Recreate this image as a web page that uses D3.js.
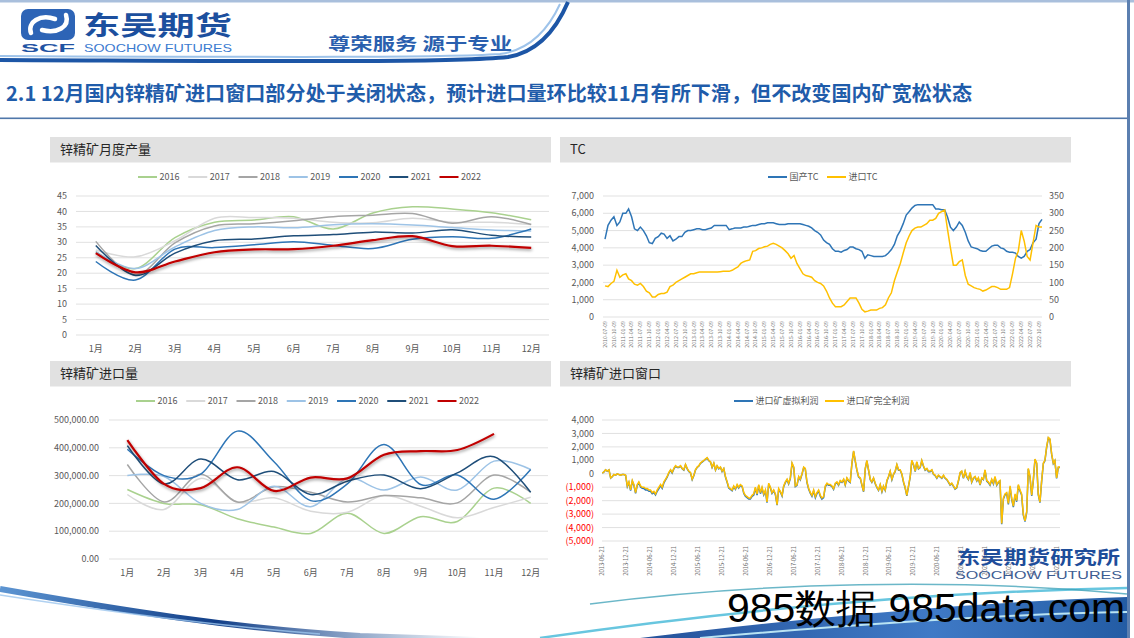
<!DOCTYPE html>
<html><head><meta charset="utf-8">
<script src="https://cdn.jsdelivr.net/npm/d3@7"></script>
<style>
body{margin:0;background:#fff}
svg{display:block}
text{font-family:"Noto Sans CJK SC","Noto Sans",sans-serif}
</style>
</head><body>
<svg id="c" width="1134" height="638"></svg>
<script>
// ---------------- DATA ----------------
const months = ["1月","2月","3月","4月","5月","6月","7月","8月","9月","10月","11月","12月"];
const years = ["2016","2017","2018","2019","2020","2021","2022"];

// 锌精矿月度产量 (万吨)
const output2016 = [27,21.5,31.5,36.5,37.2,38.3,34.3,39.5,41.5,40.8,39.6,37.3];
const output2017 = [27.5,25.3,30.5,37.8,38,37.8,36.5,36.3,37.8,36.5,36.5,35.8];
const output2018 = [30.3,19.5,29.8,35.3,36,37,38.3,38.8,39.3,36.2,38.3,35.8];
const output2019 = [27,21.5,28.5,33.8,35,34.7,35.7,36,35.6,34.8,34,33.7];
const output2020 = [23.8,17.8,27.8,28.3,29.2,30.2,29,28,31,31.8,31.3,34.3];
const output2021 = [29,19.3,26.5,30.5,31.1,32.1,32.5,33.3,33,34.1,32.3,31.7];
const output2022 = [26.5,20.3,23.8,26.8,27.7,27.8,28.9,30.7,32,28.8,28.9,28.2];
const outputTicks = [0,5,10,15,20,25,30,35,40,45];

// 锌精矿进口量 (吨)
const imp2016 = [250000,200000,195000,145000,115000,92000,165000,92000,152000,135000,255000,200000];
const imp2017 = [232000,178000,290000,205000,220000,172000,168000,228000,190000,148000,185000,222000];
const imp2018 = [340000,205000,305000,205000,260000,240000,205000,228000,220000,202000,302000,240000];
const imp2019 = [300000,297000,200000,178000,262000,188000,290000,248000,295000,248000,352000,322000];
const imp2020 = [395000,300000,305000,460000,350000,210000,270000,412000,268000,302000,215000,322000];
const imp2021 = [408000,270000,360000,285000,315000,232000,280000,302000,253000,310000,368000,240000];
const imp2022 = [428000,270000,255000,330000,245000,293000,290000,375000,388000,392000,450000];
const importTicks = [0,100000,200000,300000,400000,500000];

// TC: monthly from 2010-07-09
const tcStart = "2010-07-09";
const tcDomestic = [4500,5300,5600,5800,5300,5500,6000,6000,6250,5800,
 5100,5000,5200,5000,4700,4300,4250,4550,4650,4850,
 4800,4550,4700,4400,4500,4650,4650,4900,5000,5000,
 5050,5100,5100,5050,5050,5100,5150,5300,5300,5300,
 5300,5300,5050,5100,5150,5150,5150,5200,5200,5250,
 5300,5300,5350,5400,5400,5450,5450,5450,5400,5350,
 5350,5350,5400,5400,5400,5400,5400,5350,5300,5250,
 5150,5000,4900,4750,4450,4300,4200,3950,3800,3800,
 3750,3850,3900,4050,4050,3950,3900,3800,3400,3600,
 3550,3500,3500,3500,3500,3550,3700,3900,4200,4700,
 5000,5400,5900,6100,6300,6450,6500,6500,6500,6500,
 6500,6500,6250,6250,6200,6200,5800,5200,5000,5200,
 5500,5300,4900,4400,4050,4000,3950,3850,3800,3800,
 3950,4100,4150,4150,4000,3950,3800,3750,3750,3700,
 3500,3400,3500,3800,3900,4300,4500,5400,5650];
const tcImport = [90,88,97,103,135,115,122,125,110,105,
 95,92,97,88,75,70,58,58,65,68,
 68,72,88,92,100,105,110,115,120,125,
 125,128,130,130,130,130,130,130,130,131,
 132,132,132,135,140,145,155,160,163,165,
 190,192,198,200,203,205,210,213,210,205,
 200,192,183,170,178,155,140,125,120,118,
 115,105,100,97,90,75,55,40,30,30,
 30,35,45,55,55,55,40,22,15,17,
 20,20,20,25,27,35,55,70,105,130,
 155,185,215,235,250,257,260,260,265,270,
 280,280,285,300,305,310,255,200,150,150,
 160,165,120,95,90,85,82,80,75,78,
 83,88,88,85,80,80,80,85,125,170,
 190,250,220,175,165,215,265,260,260];
const tcLeftTicks = [0,1000,2000,3000,4000,5000,6000,7000];
const tcRightTicks = [0,50,100,150,200,250,300,350];

// 进口窗口: sampled every ~12.7 days from 2013-06-21
const profitStart = "2013-06-21";
const profitStepDays = 12.7;
const profitFull = [50,150,300,200,300,-300,-200,-50,-100,0,-50,-100,-50,-50,-100,-900,-600,-1200,-500,-800,
 -1400,-800,-600,-900,-1000,-1000,-1100,-1100,-1200,-1200,-1400,-1300,-1500,-1200,-1000,-800,-1000,-600,-400,-200,
 100,300,100,400,600,500,500,600,400,300,700,400,200,100,-400,-100,300,500,600,800,
 900,1000,1100,1200,1000,900,500,800,300,600,400,500,200,400,-200,-600,-1000,-1100,-1200,-900,
 -1100,-800,-1000,-800,-900,-1400,-1600,-1700,-1800,-1800,-1600,-1500,-1000,-1500,-800,-1400,-1000,-1500,-1200,-2100,
 -700,-1000,-1400,-1200,-1500,-2300,-1100,-1300,-1600,-900,-600,-400,-700,-300,800,500,-900,-800,-200,-400,
 0,500,400,-600,-1100,-1400,-1600,-1200,-1700,-1400,-1200,-1600,-1800,-1700,-900,-700,-800,-800,-900,-1100,
 -700,-600,-800,-500,-600,-400,-800,-300,-500,-600,800,1700,1000,300,-200,-300,-800,-1300,400,1000,
 300,-400,-600,-300,-700,-1000,-1200,-800,-1300,-900,-1200,-500,-200,200,-400,0,200,700,300,300,
 0,-600,-1000,-1600,-900,-200,1000,700,200,900,400,500,1000,600,300,400,200,200,300,0,
 -100,-300,-100,-200,-300,-100,-300,-400,-600,-800,-700,-900,-1100,-1000,-500,100,200,-300,200,-200,
 -400,100,-600,-300,-200,-500,-300,-800,-300,-400,300,-500,-600,-800,-400,-700,-200,-800,-600,-500,
 -3700,-1800,-1500,-1400,-2200,-900,-1800,-2400,-1500,-2000,-800,-1200,-1500,-3000,-3500,-2800,400,-200,-1600,-500,
 1100,800,-1500,-2100,-500,800,1000,2000,2700,2600,1500,800,1000,-300,500,500];
const profitVirtual = [40,140,290,190,280,-320,-220,-60,-110,-10,-60,-110,-60,-60,-120,-950,-650,-1250,-560,-860,
 -1450,-860,-680,-980,-1080,-1100,-1200,-1200,-1300,-1300,-1480,-1400,-1580,-1300,-1100,-880,-1080,-680,-460,-250,
 60,260,60,360,560,470,470,570,370,270,670,370,170,70,-430,-130,270,470,570,770,
 870,970,1070,1170,970,870,470,770,270,570,370,470,170,370,-240,-650,-1060,-1160,-1260,-960,
 -1160,-860,-1060,-860,-960,-1470,-1680,-1780,-1880,-1880,-1680,-1580,-1080,-1580,-880,-1480,-1080,-1580,-1280,-2150,
 -760,-1060,-1460,-1260,-1560,-2330,-1160,-1360,-1660,-960,-660,-460,-760,-350,760,460,-950,-850,-250,-450,
 -40,460,360,-650,-1160,-1460,-1680,-1280,-1780,-1480,-1280,-1680,-1880,-1780,-970,-770,-860,-860,-960,-1160,
 -750,-650,-850,-550,-650,-450,-850,-350,-550,-650,760,1660,960,260,-240,-340,-840,-1340,360,960,
 260,-440,-640,-340,-740,-1040,-1240,-840,-1340,-940,-1240,-540,-240,160,-440,-40,160,660,260,260,
 -40,-640,-1040,-1640,-940,-240,960,660,160,860,360,460,960,560,260,360,160,160,260,-40,
 -140,-340,-140,-240,-340,-140,-340,-440,-640,-840,-740,-940,-1140,-1040,-540,60,160,-340,160,-240,
 -440,60,-640,-340,-240,-540,-340,-840,-340,-440,260,-540,-660,-860,-460,-760,-260,-860,-660,-560,
 -3750,-1880,-1580,-1480,-2280,-980,-1880,-2480,-1580,-2080,-880,-1280,-1580,-3080,-3560,-2860,350,-250,-1650,-550,
 1060,760,-1550,-2150,-550,760,960,1960,2660,2560,1460,760,960,-340,460,460];
const profitTicks = [-5000,-4000,-3000,-2000,-1000,0,1000,2000,3000,4000];

// ---------------- STYLE ----------------
const yearColors = ["#a9d18e","#d9d9d9","#a5a5a5","#9dc3e6","#2e75b6","#1f4e79","#c00000"];
const axisColor = "#595959";
const gridColor = "#d9d9d9";

// ---------------- DRAW ----------------
const svg = d3.select("#c");
const W = 1134, H = 638;
svg.append("rect").attr("width",W).attr("height",H).attr("fill","#fff");

const defs = svg.append("defs");
const sh = defs.append("filter").attr("id","shadow").attr("x","-5%").attr("y","-20%").attr("width","110%").attr("height","150%");
sh.append("feDropShadow").attr("dx",0.5).attr("dy",1.5).attr("stdDeviation",1.6).attr("flood-color","#000").attr("flood-opacity",0.45);

const gb = defs.append("linearGradient").attr("id","bandGrad").attr("x1","0").attr("x2","1").attr("y1","0").attr("y2","0");
gb.append("stop").attr("offset","0").attr("stop-color","#0d3f8f");
gb.append("stop").attr("offset","0.6").attr("stop-color","#2a6bc0");
gb.append("stop").attr("offset","1").attr("stop-color","#0b4a9a");
const gl = defs.append("linearGradient").attr("id","leftGrad").attr("x1","0").attr("x2","1");
gl.append("stop").attr("offset","0").attr("stop-color","#5d95d2");
gl.append("stop").attr("offset","0.45").attr("stop-color","#123f88");
gl.append("stop").attr("offset","1").attr("stop-color","#14478f").attr("stop-opacity",0);

// ---- header ----
svg.append("rect").attr("x",0).attr("y",0).attr("width",W).attr("height",2.5).attr("fill","#a9bfdc");
svg.append("rect").attr("x",1127).attr("y",0).attr("width",3).attr("height",H).attr("fill","#5b7fb0");
svg.append("path").attr("d","M0,56 C 250,57 440,58 500,54 C 530,50 548,30 560,4")
  .attr("fill","none").attr("stroke","#9ec3ea").attr("stroke-width",2);
svg.append("path").attr("d","M0,60 C 250,61 450,63 508,57 C 538,52 556,30 568,2")
  .attr("fill","none").attr("stroke","#1d56a6").attr("stroke-width",4);

// logo icon
svg.append("rect").attr("x",21).attr("y",9).attr("width",54).attr("height",31).attr("rx",7).attr("fill","#2d64b6");
svg.append("path").attr("d","M31,33 C 27,22 40,14 55,19").attr("fill","none").attr("stroke","#fff").attr("stroke-width",4.5).attr("stroke-linecap","round");
svg.append("path").attr("d","M66,15 C 70,27 57,34 42,30").attr("fill","none").attr("stroke","#fff").attr("stroke-width",4.5).attr("stroke-linecap","round");
svg.append("text").attr("x",21).attr("y",52).attr("font-size",11.5).attr("font-weight","bold")
  .attr("fill","#1f53a3").attr("textLength",54).attr("lengthAdjust","spacingAndGlyphs").style("font-family","'Liberation Sans',sans-serif").text("SCF");
svg.append("text").attr("x",83).attr("y",35).attr("font-size",26).attr("font-weight","bold")
  .attr("fill","#1c4f9e").attr("textLength",149).attr("lengthAdjust","spacingAndGlyphs").text("东吴期货");
svg.append("text").attr("x",84).attr("y",52).attr("font-size",11.5)
  .attr("fill","#3b7bd0").attr("textLength",148).attr("lengthAdjust","spacingAndGlyphs").style("font-family","'Liberation Sans',sans-serif").text("SOOCHOW FUTURES");
svg.append("text").attr("x",328).attr("y",50).attr("font-size",17).attr("font-weight","bold")
  .attr("fill","#2a5fae").attr("textLength",184).attr("lengthAdjust","spacingAndGlyphs").text("尊荣服务 源于专业");

// title
svg.append("text").attr("x",6).attr("y",101).attr("font-size",20).attr("font-weight","bold")
  .attr("fill","#1f5caa").attr("textLength",966).attr("lengthAdjust","spacingAndGlyphs")
  .text("2.1 12月国内锌精矿进口窗口部分处于关闭状态，预计进口量环比较11月有所下滑，但不改变国内矿宽松状态");
svg.append("rect").attr("x",0).attr("y",117.5).attr("width",1127).attr("height",1.6).attr("fill","#4f77aa");

// ---- panel titles ----
function panelTitle(x,y,w,h,t){
  svg.append("rect").attr("x",x).attr("y",y).attr("width",w).attr("height",h).attr("fill","#e1e1e1");
  svg.append("text").attr("x",x+10).attr("y",y+h/2).attr("dy","0.36em").attr("font-size",13).attr("fill","#262626").text(t);
}
panelTitle(50,137,501,25.5,"锌精矿月度产量");
panelTitle(560,137,511,25.5,"TC");
panelTitle(50,361,501,25.5,"锌精矿进口量");
panelTitle(560,361,511,25.5,"锌精矿进口窗口");

function legendItem(x,y,color,label,w){
  svg.append("line").attr("x1",x).attr("x2",x+(w||19)).attr("y1",y).attr("y2",y).attr("stroke",color).attr("stroke-width",2);
  svg.append("text").attr("x",x+(w||19)+2.5).attr("y",y).attr("dy","0.35em").attr("font-size",9).attr("fill",axisColor).text(label);
}

// ---- monthly seasonal chart ----
function seasonal(opts){
  const g = svg.append("g");
  const x = d3.scaleBand().domain(months).range([opts.x0,opts.x1]);
  const y = d3.scaleLinear().domain([0,opts.max]).range([opts.yBot,opts.yTop]);
  opts.ticks.forEach(t=>{
    g.append("line").attr("x1",opts.gx0).attr("x2",opts.gx1).attr("y1",y(t)).attr("y2",y(t))
      .attr("stroke",gridColor).attr("stroke-width",0.8);
    g.append("text").attr("x",opts.labelX).attr("y",y(t)).attr("dy","0.35em").attr("text-anchor","end")
      .attr("font-size",9).attr("fill",axisColor).text(opts.fmt(t));
  });
  months.forEach(m=>{
    g.append("text").attr("x",x(m)+x.bandwidth()/2).attr("y",opts.xLabelY).attr("text-anchor","middle")
      .attr("font-size",9).attr("fill",axisColor).text(m);
  });
  const line = d3.line().x((d,i)=>x(months[i])+x.bandwidth()/2).y(d=>y(d)).curve(d3.curveCardinal.tension(0));
  opts.series.forEach((s,i)=>{
    const p = g.append("path").attr("d",line(s)).attr("fill","none").attr("stroke",yearColors[i])
      .attr("stroke-width", i===6 ? 2.2 : 1.5);
    if(i===6) p.attr("filter","url(#shadow)");
  });
  years.forEach((yr,i)=> legendItem(opts.legX + i*50.25, opts.legY, yearColors[i], yr));
}

seasonal({x0:76,x1:551,gx0:76,gx1:549,yTop:196,yBot:335,max:45,ticks:outputTicks,
  labelX:67,fmt:d=>String(d),xLabelY:351.5,
  series:[output2016,output2017,output2018,output2019,output2020,output2021,output2022],
  legX:138,legY:177});

seasonal({x0:109,x1:549,gx0:109,gx1:548,yTop:420,yBot:559,max:500000,ticks:importTicks,
  labelX:99,fmt:d3.format(",.2f"),xLabelY:575.5,
  series:[imp2016,imp2017,imp2018,imp2019,imp2020,imp2021,imp2022],
  legX:136,legY:401});

// ---- TC chart ----
(function(){
  const g = svg.append("g");
  const parse = d3.timeParse("%Y-%m-%d");
  const t0 = parse(tcStart);
  const dates = tcDomestic.map((d,i)=>d3.timeMonth.offset(t0,i));
  const x = d3.scaleTime().domain([t0, dates[dates.length-1]]).range([605,1042]);
  const yL = d3.scaleLinear().domain([0,7000]).range([317,196]);
  const yR = d3.scaleLinear().domain([0,350]).range([317,196]);
  tcLeftTicks.forEach(t=>{
    g.append("line").attr("x1",603).attr("x2",1042).attr("y1",yL(t)).attr("y2",yL(t)).attr("stroke",gridColor).attr("stroke-width",0.8);
    g.append("text").attr("x",594).attr("y",yL(t)).attr("dy","0.35em").attr("text-anchor","end").attr("font-size",9).attr("fill",axisColor).text(d3.format(",")(t));
  });
  tcRightTicks.forEach(t=>{
    g.append("text").attr("x",1049).attr("y",yR(t)).attr("dy","0.35em").attr("text-anchor","start").attr("font-size",9).attr("fill",axisColor).text(t);
  });
  const fmt = d3.timeFormat("%Y-%m-%d");
  for(let k=0; ; k++){
    const d = d3.timeMonth.offset(t0, 3*k);
    if(d > dates[dates.length-1]) break;
    g.append("text").attr("transform",`translate(${x(d)},321) rotate(-90)`).attr("text-anchor","end").attr("dy","0.35em")
      .attr("font-size",5.2).attr("fill","#707070").text(fmt(d));
  }
  const lL = d3.line().x((d,i)=>x(dates[i])).y(d=>yL(d));
  const lR = d3.line().x((d,i)=>x(dates[i])).y(d=>yR(d));
  g.append("path").attr("d",lL(tcDomestic)).attr("fill","none").attr("stroke","#2e75b6").attr("stroke-width",1.5);
  g.append("path").attr("d",lR(tcImport)).attr("fill","none").attr("stroke","#ffc000").attr("stroke-width",1.5);
  legendItem(768,177,"#2e75b6","国产TC");
  legendItem(827,177,"#ffc000","进口TC");
})();

// ---- profit chart ----
(function(){
  const g = svg.append("g");
  const parse = d3.timeParse("%Y-%m-%d");
  const t0 = parse(profitStart);
  const dates = profitFull.map((d,i)=>d3.timeDay.offset(t0, Math.round(i*profitStepDays)));
  const x = d3.scaleTime().domain([t0, dates[dates.length-1]]).range([602.3,1060]);
  const y = d3.scaleLinear().domain([-5000,4000]).range([541,420]);
  profitTicks.forEach(t=>{
    g.append("line").attr("x1",602).attr("x2",1060).attr("y1",y(t)).attr("y2",y(t)).attr("stroke",gridColor).attr("stroke-width",0.8);
    g.append("text").attr("x",594).attr("y",y(t)).attr("dy","0.35em").attr("text-anchor","end").attr("font-size",9)
      .attr("fill", t<0 ? "#ff0000" : axisColor)
      .text(t<0 ? "("+d3.format(",")(-t)+")" : d3.format(",")(t));
  });
  const fmt = d3.timeFormat("%Y-%m-%d");
  for(let k=0; ; k++){
    const d = d3.timeMonth.offset(t0, 6*k);
    if(d > dates[dates.length-1]) break;
    g.append("text").attr("transform",`translate(${x(d)},546) rotate(-90)`).attr("text-anchor","end").attr("dy","0.35em")
      .attr("font-size",5.8).attr("fill","#707070").text(fmt(d));
  }
  const l = d3.line().x((d,i)=>x(dates[i])).y(d=>y(d));
  g.append("path").attr("d",l(profitVirtual)).attr("fill","none").attr("stroke","#2e75b6").attr("stroke-width",1.5);
  g.append("path").attr("d",l(profitFull)).attr("fill","none").attr("stroke","#ffc000").attr("stroke-width",1.5);
  legendItem(734,401,"#2e75b6","进口矿虚拟利润");
  legendItem(825,401,"#ffc000","进口矿完全利润");
})();

// ---- footer decoration ----
svg.append("path").attr("d","M0,589 C 120,610 230,628 360,636 L 480,640").attr("fill","none").attr("stroke","url(#leftGrad)").attr("stroke-width",6);
svg.append("path").attr("d","M0,595 C 110,612 220,626 320,634").attr("fill","none").attr("stroke","#9cc6ee").attr("stroke-width",1.5).attr("opacity",0.8);
svg.append("path").attr("d","M640,638 C 820,616 980,602 1127,597 L 1127,638 Z").attr("fill","url(#bandGrad)").attr("opacity",0.9);
svg.append("path").attr("d","M540,638 C 720,612 920,592 1127,588").attr("fill","none").attr("stroke","#68c6df").attr("stroke-width",2.5);
svg.append("path").attr("d","M590,604 C 760,582 960,578 1127,594").attr("fill","none").attr("stroke","#3a9fb6").attr("stroke-width",1.5).attr("opacity",0.75);
svg.append("path").attr("d","M700,638 C 860,624 1000,614 1127,612").attr("fill","none").attr("stroke","#b9e3f3").attr("stroke-width",2);

// bottom-right logo
svg.append("text").attr("x",957).attr("y",564).attr("font-size",18).attr("font-weight","bold").attr("fill","#1e4d9a")
  .attr("textLength",163).attr("lengthAdjust","spacingAndGlyphs").text("东吴期货研究所");
svg.append("text").attr("x",955).attr("y",578.5).attr("font-size",11.5).attr("fill","#3c5c92")
  .attr("textLength",167).attr("lengthAdjust","spacingAndGlyphs").style("font-family","'Liberation Sans',sans-serif").text("SOOCHOW FUTURES");

// watermark
svg.append("text").attr("x",727).attr("y",622).attr("font-size",40).attr("fill","#000")
  .attr("textLength",398).attr("lengthAdjust","spacingAndGlyphs").style("font-family","'Liberation Sans',sans-serif").text("985数据 985data.com");
</script>
</body></html>
